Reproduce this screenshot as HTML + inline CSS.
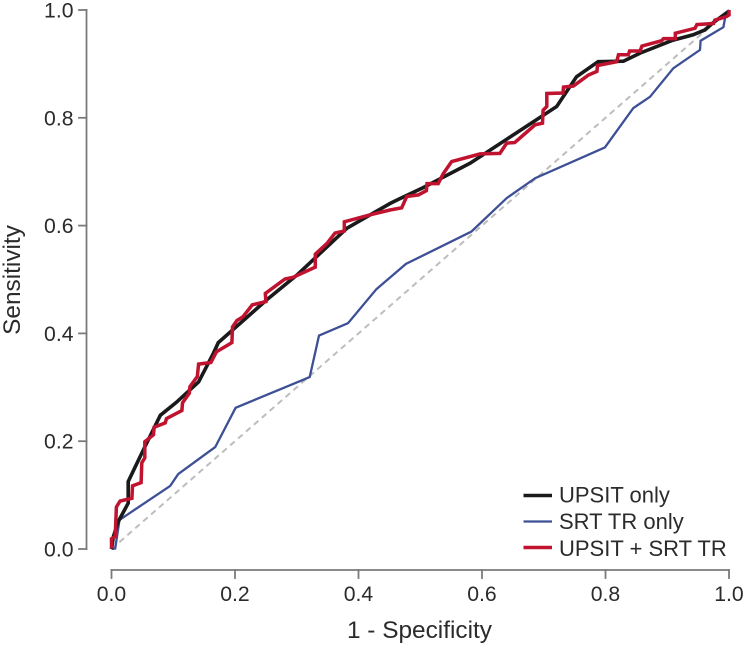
<!DOCTYPE html>
<html lang="en">
<head>
<meta charset="utf-8">
<title>ROC curves</title>
<style>
html,body{margin:0;padding:0;background:#fff;width:746px;height:645px;overflow:hidden}
svg{display:block;font-family:"Liberation Sans",Arial,sans-serif}
text{fill:#2b2b2b}
</style>
</head>
<body>
<svg id="chart" width="746" height="645" viewBox="0 0 746 645" xmlns="http://www.w3.org/2000/svg">
  <g id="axes"></g>
  <g id="marks"></g>
  <text x="419.5" y="638" font-size="24.4" text-anchor="middle">1 - Specificity</text>
  <text x="0" y="0" font-size="24.4" text-anchor="middle" transform="translate(20 280) rotate(-90)">Sensitivity</text>
  <g>
    <line x1="523.5" x2="552" y1="495.5" y2="495.5" stroke="#1a1a1a" stroke-width="3.6"/>
    <text x="559" y="502.5" font-size="22">UPSIT only</text>
    <line x1="523.5" x2="552" y1="521.5" y2="521.5" stroke="#3d5096" stroke-width="2.3"/>
    <text x="559" y="529" font-size="22">SRT TR only</text>
    <line x1="523.5" x2="552" y1="547.5" y2="547.5" stroke="#c0132f" stroke-width="3.6"/>
    <text x="559" y="556" font-size="22">UPSIT + SRT TR</text>
  </g>
</svg>
<script>
const xTicks = [0, 0.2, 0.4, 0.6, 0.8, 1];
const yTicks = [0, 0.2, 0.4, 0.6, 0.8, 1];
const tickLabels = ['0.0', '0.2', '0.4', '0.6', '0.8', '1.0'];

const upsitFpr = [0,.003,.011,.027,.027,.049,.079,.105,.124,.141,.165,.173,.251,.300,.381,.419,.451,.467,.504,.581,.721,.753,.788,.829,.856,.909,.942,.961,.974,1];
const upsitTpr = [0,.023,.051,.085,.125,.178,.248,.272,.292,.310,.363,.383,.462,.508,.595,.620,.641,.650,.670,.716,.821,.876,.904,.905,.920,.944,.954,.963,.976,.998];

const srtFpr = [0,.006,.013,.095,.108,.168,.201,.321,.336,.383,.429,.477,.583,.640,.686,.799,.845,.872,.910,.953,.954,.991,.995,1];
const srtTpr = [0,.001,.054,.117,.139,.189,.262,.319,.396,.419,.482,.529,.589,.651,.688,.745,.818,.839,.892,.926,.943,.968,.994,1];

const comboFpr = [0,0,.006,.008,.014,.033,.034,.048,.049,.054,.054,.068,.069,.087,.089,.114,.115,.126,.127,.139,.141,.161,.170,.195,.196,.203,.213,.228,.250,.249,.281,.294,.330,.330,.349,.362,.377,.377,.419,.451,.470,.478,.497,.510,.511,.529,.537,.551,.597,.629,.640,.653,.667,.686,.698,.699,.705,.705,.731,.732,.748,.772,.786,.787,.818,.821,.837,.839,.856,.859,.891,.894,.913,.913,.945,.948,.975,.977,.996,1,1];
const comboTpr = [.001,.019,.023,.078,.089,.094,.117,.123,.160,.169,.199,.212,.226,.234,.242,.257,.271,.289,.301,.320,.343,.346,.366,.383,.412,.424,.431,.453,.459,.474,.501,.504,.523,.547,.567,.586,.590,.607,.620,.629,.633,.654,.657,.665,.678,.678,.696,.719,.733,.734,.753,.754,.768,.787,.790,.814,.821,.845,.846,.857,.859,.879,.886,.897,.904,.917,.917,.924,.924,.933,.943,.947,.947,.957,.966,.973,.975,.981,.988,.991,1];

const refFpr = [0, 1];
const refTpr = [0, 1];

const NS = 'http://www.w3.org/2000/svg';
const scaleX = function (v) { return 111.5 + v * 617.5; };
const scaleY = function (v) { return 549 - v * 539; };
const axesGroup = document.getElementById('axes');
const marksGroup = document.getElementById('marks');

function makeLine(x1, y1, x2, y2) {
  const el = document.createElementNS(NS, 'line');
  el.setAttribute('x1', x1);
  el.setAttribute('y1', y1);
  el.setAttribute('x2', x2);
  el.setAttribute('y2', y2);
  el.setAttribute('stroke', '#7a7a7a');
  el.setAttribute('stroke-width', '1.8');
  el.setAttribute('stroke-linecap', 'square');
  return el;
}

function makeText(x, y, anchor, content) {
  const el = document.createElementNS(NS, 'text');
  el.setAttribute('x', x);
  el.setAttribute('y', y);
  el.setAttribute('text-anchor', anchor);
  el.setAttribute('font-size', '21.2');
  el.textContent = content;
  return el;
}

function makeCurve(xs, ys, color, width, dash) {
  const el = document.createElementNS(NS, 'polyline');
  const pts = xs.map(function (v, i) {
    return scaleX(v).toFixed(1) + ',' + scaleY(ys[i]).toFixed(1);
  });
  el.setAttribute('points', pts.join(' '));
  el.setAttribute('fill', 'none');
  el.setAttribute('stroke', color);
  el.setAttribute('stroke-width', width);
  el.setAttribute('stroke-linejoin', 'miter');
  if (dash) {
    el.setAttribute('stroke-dasharray', dash);
  }
  return el;
}

const xAxisLine = makeLine(scaleX(xTicks[0]), 570, scaleX(xTicks[xTicks.length - 1]), 570);


axesGroup.appendChild(xAxisLine);

const yAxisLine = makeLine(86.5, scaleY(yTicks[0]), 86.5, scaleY(yTicks[yTicks.length - 1]));


axesGroup.appendChild(yAxisLine);

xTicks.forEach(function (t, i) {
  const tick = makeLine(scaleX(t), 570, scaleX(t), 578);
  
  
  axesGroup.appendChild(tick);
  const label = makeText(scaleX(t), 601, 'middle', tickLabels[i]);
  
  
  axesGroup.appendChild(label);
});

yTicks.forEach(function (t, i) {
  const tick = makeLine(79, scaleY(t), 86.5, scaleY(t));
  
  
  axesGroup.appendChild(tick);
  const label = makeText(73.5, scaleY(t) + 7.5, 'end', tickLabels[i]);
  
  
  axesGroup.appendChild(label);
});

const refCurve = makeCurve(refFpr, refTpr, '#bdbdbd', 2, '6 4.5');


marksGroup.appendChild(refCurve);

const srtCurve = makeCurve(srtFpr, srtTpr, '#3d5096', 2.3);


marksGroup.appendChild(srtCurve);

const upsitCurve = makeCurve(upsitFpr, upsitTpr, '#1a1a1a', 3.6);


marksGroup.appendChild(upsitCurve);

const comboCurve = makeCurve(comboFpr, comboTpr, '#c0132f', 3.5);


marksGroup.appendChild(comboCurve);
</script>
</body>
</html>
